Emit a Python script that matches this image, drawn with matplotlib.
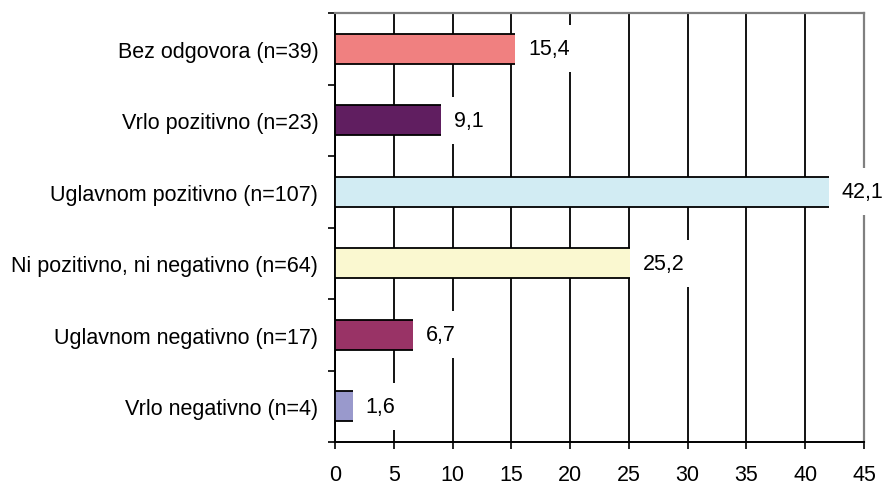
import numpy as np
import matplotlib.pyplot as plt
from matplotlib.ticker import MultipleLocator

plt.rcParams['font.family'] = ['Liberation Sans', 'DejaVu Sans']

categories = ["Bez odgovora (n=39)", "Vrlo pozitivno (n=23)", "Uglavnom pozitivno (n=107)",
              "Ni pozitivno, ni negativno (n=64)", "Uglavnom negativno (n=17)", "Vrlo negativno (n=4)"]
values = [15.4, 9.1, 42.1, 25.2, 6.7, 1.6]
colors = ["#F08080", "#601E60", "#D2ECF3", "#FAF8D0", "#993366", "#9999CC"]
xticks = [0, 5, 10, 15, 20, 25, 30, 35, 40, 45]

fs = 15.5
fig = plt.figure(figsize=(8.83, 4.85), dpi=100)
ax = fig.add_axes([0.3794, 0.0866, 0.5991, 0.8845])

y = np.arange(len(categories))
ax.barh(y, values, height=0.42, color=colors, edgecolor='black', linewidth=1.3, zorder=3)

for yi, v in zip(y, values):
    ax.annotate(f"{v:.1f}".replace('.', ','), xy=(v, yi), xytext=(12, 0),
                textcoords='offset pixels', ha='left', va='center', fontsize=fs,
                zorder=5, annotation_clip=False,
                bbox=dict(boxstyle='square,pad=0.6', fc='white', ec='none'))

ax.set_xlim(0, 45)
ax.set_ylim(len(categories) - 0.5, -0.5)
ax.set_xticks(xticks)
ax.set_xticklabels([str(t) for t in xticks], fontsize=fs)
ax.xaxis.grid(True, color='black', linewidth=1.3, zorder=0)
ax.set_axisbelow(True)

ax.set_yticks(y)
ax.set_yticklabels(categories, fontsize=fs)
ax.yaxis.set_minor_locator(MultipleLocator(1, offset=0.5))
ax.tick_params(axis='y', which='major', length=0, pad=12)
ax.tick_params(axis='y', which='minor', length=5, width=1.2, color='black')
ax.tick_params(axis='x', length=5, width=1.2, pad=11)

for s in ['left', 'bottom']:
    ax.spines[s].set_color('black')
    ax.spines[s].set_linewidth(1.4)
for s in ['top', 'right']:
    ax.spines[s].set_color('#808080')
    ax.spines[s].set_linewidth(1.6)

fig.savefig('out.png', dpi=100)
